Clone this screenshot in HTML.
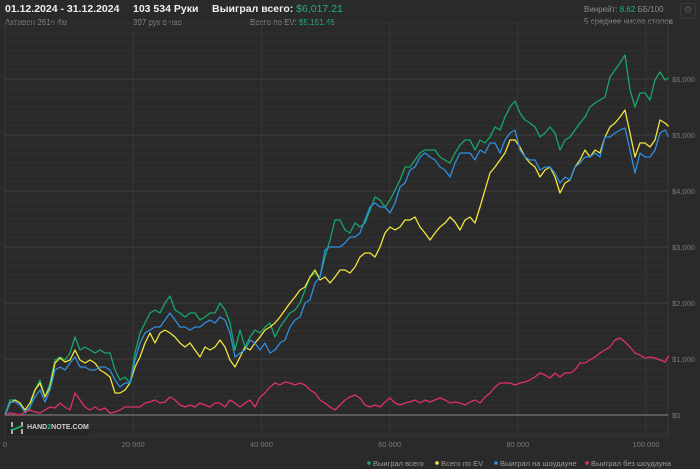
<!DOCTYPE html>
<html><head><meta charset="utf-8">
<style>
body{margin:0;width:700px;height:469px;background:#2a2a2a;overflow:hidden;font-family:"Liberation Sans","Noto Sans CJK SC",sans-serif;position:relative}
.t{position:absolute;white-space:nowrap}
.big{font-size:10.5px;color:#f0f0f0;font-weight:bold}
.sm{font-size:8px;color:#8c8c8c}
.g{color:#1fb57a}
</style></head><body>
<div class="t big" style="left:5px;top:3px">01.12.2024 - 31.12.2024</div>
<div class="t sm" style="left:5px;top:18px">Активен 261ч 4м</div>
<div class="t big" style="left:133px;top:3px">103 534 Руки</div>
<div class="t sm" style="left:133px;top:18px">397 рук в час</div>
<div class="t big" style="left:212px;top:3px">Выиграл всего: <span class="g" style="font-weight:normal">$6,017.21</span></div>
<div class="t sm" style="left:250px;top:18px">Всего по EV: <span class="g">$5,151.46</span></div>
<div class="t sm" style="left:584px;top:5px">Винрейт: <span class="g">8.62</span> ББ/100</div>
<div class="t sm" style="left:584px;top:17px">5 среднее число столов</div>
<div class="t" style="left:680px;top:3px;width:14px;height:14px;border:1px solid #3a3a3a;border-radius:2px;color:#555;font-size:10px;text-align:center;line-height:14px">⚙</div>

<svg id="chart" width="700" height="469" style="position:absolute;left:0;top:0"></svg>

<script>
const greenVals=[0,268,268,214,36,125,446,625,321,571,982,1036,982,1107,1393,1161,1214,1161,1107,1161,1107,1107,804,625,679,571,1107,1464,1643,1821,1875,1821,2000,2125,1875,1821,1750,1821,1821,1696,1750,1821,1821,2000,1875,1643,1161,1518,1214,1393,1518,1464,1571,1643,1393,1571,1696,1821,1875,2000,2232,2464,2536,2464,2821,3125,3482,3482,3304,3250,3429,3357,3429,3661,3893,3839,3714,3839,4018,4196,4429,4429,4554,4679,4732,4732,4732,4607,4554,4500,4679,4821,4911,4911,4732,4911,4857,4964,5143,5089,5321,5500,5607,5393,5268,5214,5143,4964,5036,5143,5036,4732,4911,4964,5089,5214,5321,5500,5571,5625,5679,6036,6161,6286,6429,5804,5500,5750,5750,5625,5982,6125,5982,6017];
const evVals=[0,214,268,214,89,214,446,571,321,500,929,1018,946,982,1161,982,929,982,929,804,750,679,393,393,446,571,857,1036,1286,1464,1286,1464,1518,1464,1393,1286,1214,1286,1161,1036,1214,1161,1214,1339,1214,982,857,1036,1214,1161,1286,1393,1518,1571,1643,1750,1875,2000,2107,2232,2286,2464,2589,2411,2464,2357,2464,2589,2589,2536,2643,2821,2893,2893,2821,3000,3250,3357,3304,3357,3482,3482,3536,3357,3250,3125,3250,3357,3429,3536,3446,3304,3482,3536,3429,3714,4018,4321,4429,4554,4679,4911,4911,4786,4607,4500,4429,4250,4375,4429,4250,3964,4143,4196,4429,4554,4732,4607,4732,4679,4964,5143,5214,5321,5446,5036,4607,4857,4857,4786,4911,5268,5214,5151];
const sdVals=[0,232,232,179,54,143,321,446,232,446,804,857,804,929,1036,857,857,804,804,857,857,804,625,500,571,571,982,1286,1464,1518,1571,1571,1696,1821,1696,1571,1571,1518,1571,1571,1643,1696,1643,1750,1696,1464,1036,1107,1161,1339,1286,1161,1286,1107,1161,1286,1339,1571,1696,1750,2000,2054,2357,2464,2946,3000,3000,3000,3071,3179,3179,3250,3482,3714,3786,3714,3714,3607,3786,4071,4143,4375,4429,4607,4679,4607,4554,4429,4375,4250,4500,4679,4679,4679,4554,4732,4679,4857,4857,4679,4911,5036,5089,4732,4607,4554,4554,4375,4429,4429,4321,4143,4250,4196,4429,4500,4607,4607,4679,4607,4964,4964,5036,5089,5125,4732,4321,4679,4607,4607,4732,5036,5089,4964];
const nsdVals=[0,36,18,0,54,89,54,36,89,143,125,214,143,89,393,268,143,89,143,89,125,36,54,89,143,143,143,143,214,232,268,214,232,321,268,179,143,179,143,214,179,143,214,214,143,268,214,143,214,268,143,321,393,500,571,536,589,571,536,571,536,446,393,268,214,143,89,179,268,321,357,304,179,143,179,143,232,304,214,179,214,232,268,214,268,232,268,304,268,214,232,214,179,232,268,214,321,393,500,571,571,571,536,571,589,625,679,750,714,661,750,679,750,750,804,929,929,982,1036,1107,1161,1214,1339,1375,1304,1214,1107,1071,1018,1036,1018,982,946,1053];
const handStep=780;
const totalHands=103534;
const yTicks=[0,1000,2000,3000,4000,5000,6000];
const yTickLabels=["$0","$1,000","$2,000","$3,000","$4,000","$5,000","$6,000"];
const xTicks=[0,20000,40000,60000,80000,100000];
const xTickLabels=["0","20 000","40 000","60 000","80 000","100 000"];
const legendNames=["Выиграл всего","Всего по EV","Выиграл на шоудауне","Выиграл без шоудауна"];

const NS="http://www.w3.org/2000/svg";
const svg=document.getElementById('chart');
const L=5,R=668,T=22,B=436;
function xs(h){return L+h*0.00641;}
function ys(v){return 415-v*0.056;}
function mk(tag,attrs,parent){const e=document.createElementNS(NS,tag);for(const k in attrs)e.setAttribute(k,attrs[k]);(parent||svg).appendChild(e);return e;}

for(let v=-1000/6*3;v<=7200;v+=1000/6){const y=ys(v);if(y<T||y>B)continue;
 const ln=mk('line',{x1:L,x2:R,y1:y,y2:y,stroke:'#313131','stroke-width':1});
 
 }
xTicks.forEach((h,i)=>{const x=xs(h);
 const ln=mk('line',{x1:x,x2:x,y1:T,y2:B,stroke:'#353535','stroke-width':1});
 
 
 const t=mk('text',{x:x,y:447,'text-anchor':'middle','font-size':7.5,fill:'#7a7a7a','font-family':'Liberation Sans, sans-serif'});
 t.textContent=xTickLabels[i];
 
 });
mk('line',{x1:R,x2:R,y1:T,y2:B,stroke:'#383838'});
mk('line',{x1:L,x2:R,y1:B,y2:B,stroke:'#383838'});
yTicks.forEach((v,i)=>{const y=ys(v);
 const ln=mk('line',{x1:L,x2:R,y1:y,y2:y,stroke:v===0?'#6a6a6a':'#3e3e3e','stroke-width':v===0?1.5:1});
 
 
 const t=mk('text',{x:672,y:y+3,'font-size':7.5,fill:'#7a7a7a','font-family':'Liberation Sans, sans-serif'});
 t.textContent=yTickLabels[i];
 
 });

function handAt(i,n){return i===n-1?totalHands:i*handStep;}
const series=[[nsdVals,'#e0306a','line-no-showdown'],[evVals,'#f2e63a','line-ev'],[sdVals,'#2f8fe0','line-showdown'],[greenVals,'#16a86a','line-total']];
const order=[3,1,2,0];
order.forEach(si=>{const [vals,col,name]=series[si];
 const pts=vals.map((v,i)=>xs(handAt(i,vals.length)).toFixed(1)+','+ys(v).toFixed(1)).join(' ');
 const p=mk('polyline',{points:pts,fill:'none',stroke:col,'stroke-width':1.3,'stroke-linejoin':'round'});
 
 });

const legCols=['#16a86a','#f2e63a','#2f8fe0','#e0306a'];
const legX=[369,437,496,587];
legendNames.forEach((n,i)=>{
 const c=mk('circle',{cx:legX[i],cy:463,r:1.8,fill:legCols[i]});
 
 
 const t=mk('text',{x:legX[i]+4,y:466,'font-size':7.5,fill:'#9a9a9a','font-family':'Liberation Sans, sans-serif'});
 t.textContent=n;
 
 });
</script>

<div class="t" style="left:7px;top:420px;width:82px;height:16px;background:#262626">
 <svg width="14" height="14" style="position:absolute;left:3px;top:1px"><path d="M2 1v5M2 8v5M12 1v5M12 8v5" stroke="#ddd" stroke-width="1.5"/><path d="M2 9 L12 5" stroke="#1fa860" stroke-width="2"/></svg>
 <span style="position:absolute;left:20px;top:4px;font-size:7px;font-weight:bold;color:#cfcfcf">HAND<span style="color:#1fb57a">2</span>NOTE.COM</span>
</div>
</body></html>
